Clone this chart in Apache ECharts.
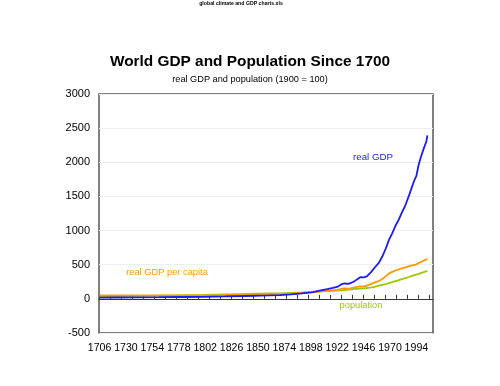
<!DOCTYPE html>
<html>
<head>
<meta charset="utf-8">
<script src="https://cdn.jsdelivr.net/npm/echarts@6/dist/echarts.min.js"></script>
<style>html,body{margin:0;padding:0;background:#fff;}#c{width:500px;height:386px;}</style>
</head>
<body>
<div id="c"></div>
<script>
const years = [1706, 1720, 1740, 1760, 1780, 1800, 1820, 1840, 1860, 1870, 1880, 1890, 1900, 1906, 1913, 1918, 1922, 1926, 1929, 1932, 1934, 1937, 1940, 1943, 1946, 1949, 1953, 1956, 1960, 1963, 1966, 1969, 1972, 1975, 1978, 1981, 1984, 1987, 1990, 1992, 1994, 1996, 1998, 2000, 2002, 2003, 2004];
const realGDP = [19, 20, 22, 24, 27, 30, 35, 42, 50, 56, 65, 79, 100, 121, 142, 160, 175, 215, 225, 220, 230, 250, 285, 318, 315, 328, 395, 455, 530, 620, 730, 860, 960, 1070, 1160, 1270, 1370, 1500, 1640, 1730, 1800, 1960, 2070, 2170, 2260, 2300, 2395];
const gdpPerCapita = [49, 49, 50, 51, 52, 52, 53, 57, 63, 69, 75, 86, 100, 111, 121, 128, 132, 148, 155, 148, 153, 163, 175, 182, 178, 195, 220, 237, 262, 290, 330, 370, 395, 415, 432, 445, 460, 475, 492, 495, 505, 525, 537, 555, 570, 578, 586];
const population = [38, 40, 43, 47, 52, 58, 66, 73, 79, 81, 87, 93, 100, 106, 114, 117, 121, 126, 130, 134, 137, 142, 146, 150, 153, 159, 168, 177, 193, 204, 215, 230, 246, 261, 275, 290, 305, 320, 337, 346, 355, 366, 378, 389, 399, 404, 409];
const xTickLabels = [1706, 1730, 1754, 1778, 1802, 1826, 1850, 1874, 1898, 1922, 1946, 1970, 1994];
const yTicks = [-500, 0, 500, 1000, 1500, 2000, 2500, 3000];

const xMin = 1705.5, xMax = 2009.1;
const minorTicks = [];
for (let v = 1705.5; v <= 2006; v += 10) minorTicks.push(v);

function pairs(vals) { return years.map((y, i) => [y, vals[i]]); }

const FONT = 'Liberation Sans, Arial, sans-serif';
const chart = echarts.init(document.getElementById('c'), null, {renderer: 'canvas'});
chart.setOption({
  animation: false,
  backgroundColor: '#fff',
  grid: {left: 99, right: 67, top: 94, bottom: 53, show: true, borderColor: '#555', borderWidth: 1.5, containLabel: false},
  xAxis: [
    {
      type: 'value', min: xMin, max: xMax, position: 'bottom',
      axisLine: {show: false, onZero: false},
      axisTick: {show: false},
      splitLine: {show: false},
      axisLabel: {customValues: xTickLabels, fontFamily: FONT, fontSize: 10.6, color: '#000', margin: 10, formatter: v => String(v)}
    },
    {
      type: 'value', min: xMin, max: xMax, position: 'bottom',
      axisLine: {show: true, onZero: true, lineStyle: {color: '#333', width: 1}},
      axisTick: {show: true, inside: true, length: 4, customValues: minorTicks, lineStyle: {color: '#333'}},
      splitLine: {show: false},
      axisLabel: {show: false}
    }
  ],
  yAxis: {
    type: 'value', min: -500, max: 3000, interval: 500,
    axisLine: {show: false, onZero: false},
    axisTick: {show: false},
    splitLine: {show: true, lineStyle: {color: '#eeeeee', width: 1}},
    axisLabel: {customValues: yTicks, fontFamily: FONT, fontSize: 11, color: '#000', margin: 9, formatter: v => String(v)}
  },
  series: [
    {name: 'population', type: 'line', xAxisIndex: 0, data: pairs(population), showSymbol: false, lineStyle: {color: '#99cc00', width: 1.8}, itemStyle: {color: '#99cc00'}},
    {name: 'real GDP per capita', type: 'line', xAxisIndex: 0, data: pairs(gdpPerCapita), showSymbol: false, lineStyle: {color: '#ff9900', width: 1.8}, itemStyle: {color: '#ff9900'}},
    {name: 'real GDP', type: 'line', xAxisIndex: 0, data: pairs(realGDP), showSymbol: false, lineStyle: {color: '#1a1aff', width: 1.8}, itemStyle: {color: '#1a1aff'}}
  ],
  graphic: [
    {type: 'text', x: 241, y: 4, style: {text: 'global climate and GDP charts.xls', font: 'bold 5.2px ' + FONT, fill: '#000', align: 'center', verticalAlign: 'middle'}},
    {type: 'text', x: 250, y: 62, style: {text: 'World GDP and Population Since 1700', font: 'bold 15.4px ' + FONT, fill: '#000', align: 'center', verticalAlign: 'middle'}},
    {type: 'text', x: 250, y: 79, style: {text: 'real GDP and population (1900 = 100)', font: '9.2px ' + FONT, fill: '#000', align: 'center', verticalAlign: 'middle'}},
    {type: 'text', x: 373, y: 157, style: {text: 'real GDP', font: '9.7px ' + FONT, fill: '#1a1aff', align: 'center', verticalAlign: 'middle'}},
    {type: 'text', x: 167, y: 272, style: {text: 'real GDP per capita', font: '9.3px ' + FONT, fill: '#ff9900', align: 'center', verticalAlign: 'middle'}},
    {type: 'text', x: 361, y: 305, style: {text: 'population', font: '9.3px ' + FONT, fill: '#99cc00', align: 'center', verticalAlign: 'middle'}}
  ]
});
</script>
</body>
</html>
